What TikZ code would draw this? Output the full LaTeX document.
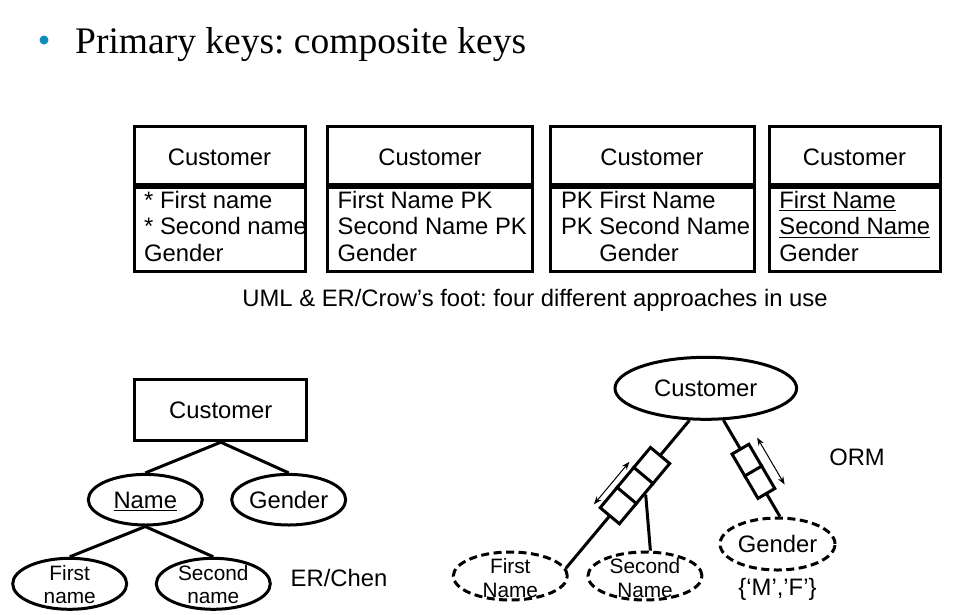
\documentclass[tikz,border=0pt]{standalone}
\usepackage{fontspec}
\setmainfont{Liberation Sans}
\newfontfamily\titlefont{Liberation Serif}
\usetikzlibrary{shapes.geometric,calc,arrows.meta}
\frenchspacing
\newcommand\bigf{\fontsize{23.8}{26.7}\selectfont}
\newcommand\smallf{\fontsize{20.8}{23.4}\selectfont}
\newcommand\titlef{\titlefont\fontsize{37.5}{42}\selectfont}
\newcommand\ulx[1]{\setbox0\hbox{#1}\rlap{\rule[-2.7pt]{\wd0}{1pt}}\box0}
\definecolor{bulletblue}{RGB}{16,140,184}
\tikzset{
 ln/.style={line width=3pt},
 hdr/.style={draw, ln, rectangle, minimum height=58pt, inner sep=0pt, font=\bigf, text height=20.6pt, text depth=0pt},
 bodyb/.style={draw, ln, rectangle, minimum height=84pt, inner sep=0pt},
 attr/.style={font=\bigf, inner sep=0pt, anchor=base west},
 chenent/.style={draw, ln, rectangle, minimum width=171.7pt, minimum height=61.4pt, inner sep=0pt, font=\bigf, text height=16.8pt, text depth=0pt},
 chenatt/.style={draw, ln, ellipse, minimum width=114pt, minimum height=50.6pt, inner sep=0pt, font=\bigf, text height=16.8pt, text depth=0pt},
 chensub/.style={draw, ln, ellipse, minimum width=114pt, minimum height=51pt, inner sep=0pt},
 twoline/.style={font=\smallf, align=center, inner sep=0pt},
 ormobj/.style={draw, ln, ellipse, minimum width=181.6pt, minimum height=62pt, inner sep=0pt, font=\bigf, text height=16.8pt, text depth=0pt},
 ormval/.style={draw, ln, ellipse, dash pattern=on 8pt off 4.5pt, minimum width=114pt, minimum height=48pt, inner sep=0pt},
 cellA/.style={draw, ln, solid, fill=white, rectangle, minimum width=26.4pt, minimum height=25pt, inner sep=0pt, sloped},
 cellB/.style={draw, ln, solid, fill=white, rectangle, minimum width=26pt, minimum height=19.5pt, inner sep=0pt, sloped},
 uc/.style={line width=1pt, {Stealth[length=8pt,width=6pt]}-{Stealth[length=8pt,width=6pt]}},
 lbl/.style={font=\bigf, inner sep=0pt, text height=16.8pt, text depth=0pt},
}
\begin{document}
\begin{tikzpicture}[x=1pt,y=-1pt]
\useasboundingbox (0,0) rectangle (968,614);
\fill[white] (0,0) rectangle (968,614);

% title
\node[circle, fill=bulletblue, minimum size=9pt, inner sep=0pt] (bul) at (44,40) {};
\node[anchor=base west, font=\titlef, inner sep=0pt] (title) at (75,53) {Primary keys: composite keys};

% UML / crow's foot boxes
\node[hdr, minimum width=171pt] (h1) at (219.5,155) {Customer};
\node[bodyb, minimum width=171pt, anchor=north] (b1) at (h1.south) {};
\node[hdr, minimum width=205pt] (h2) at (430,155) {Customer};
\node[bodyb, minimum width=205pt, anchor=north] (b2) at (h2.south) {};
\node[hdr, minimum width=204pt] (h3) at (652,155) {Customer};
\node[bodyb, minimum width=204pt, anchor=north] (b3) at (h3.south) {};
\node[hdr, minimum width=171pt] (h4) at (854.5,155) {Customer};
\node[bodyb, minimum width=171pt, anchor=north] (b4) at (h4.south) {};

\node[attr] (a11) at ($(b1.north west)+(11.5,22.7)$) {* First name};
\node[attr] (a12) at ($(b1.north west)+(11.5,49.4)$) {* Second name};
\node[attr] (a13) at ($(b1.north west)+(11.5,76.1)$) {Gender};
\node[attr] (a21) at ($(b2.north west)+(11.5,22.7)$) {First Name PK};
\node[attr] (a22) at ($(b2.north west)+(11.5,49.4)$) {Second Name PK};
\node[attr] (a23) at ($(b2.north west)+(11.5,76.1)$) {Gender};
\node[attr] (a31) at ($(b3.north west)+(12.3,22.7)$) {PK First Name};
\node[attr] (a32) at ($(b3.north west)+(12.3,49.4)$) {PK Second Name};
\node[attr] (a33) at ($(b3.north west)+(12.3,76.1)$) {\phantom{PK }Gender};
\node[attr] (a41) at ($(b4.north west)+(11.7,22.7)$) {\ulx{First Name}};
\node[attr] (a42) at ($(b4.north west)+(11.7,49.4)$) {\ulx{Second Name}};
\node[attr] (a43) at ($(b4.north west)+(11.7,76.1)$) {Gender};

\node[lbl] (cap) at (535,298) {UML \& ER/Crow’s foot: four different approaches in use};

% ER / Chen
\node[chenent] (cC) at (220.8,410) {Customer};
\node[chenatt] (cName) at (145.3,499.7) {\ulx{Name}};
\node[chenatt] (cGender) at (288.7,499.7) {Gender};
\node[chensub] (cFirst) at (69.7,583.8) {};
\node[twoline] (cFirstT) at (69.7,584.3) {First\\name};
\node[chensub] (cSecond) at (213.3,583.8) {};
\node[twoline] (cSecondT) at (213.3,584.3) {Second\\name};
\draw[ln] (cC.south) -- (cName.north);
\draw[ln] (cC.south) -- (cGender.north);
\draw[ln] (cName.south) -- (cFirst.north);
\draw[ln] (cName.south) -- (cSecond.north);
\node[lbl] (chenlbl) at (339,578) {ER/Chen};

% ORM
\node[ormobj] (oc) at (705.8,388.3) {Customer};
\node[ormval] (fn) at (510.3,576) {};
\node[twoline] (fnT) at (510.3,578) {First\\Name};
\node[ormval] (sn) at (645,576) {};
\node[twoline] (snT) at (645,578) {Second\\Name};
\node[ormval, minimum width=115pt, minimum height=52pt, font=\bigf, text height=16.8pt, text depth=0pt] (gv) at (777.5,544) {Gender};
\node[lbl] (mf) at (777.5,587) {\{‘M’,’F’\}};
\node[lbl] (ormlbl) at (857,456.7) {ORM};

\draw[ln] (oc.243) -- node[cellA, pos=0.3066] (r1) {} node[cellA, pos=0.4417] (r2) {} node[cellA, pos=0.5768] (r3) {} (fn.8);
\draw[ln] (r2.south) -- (sn.78);
\draw[uc] ($(r3.north west)!-5.5pt!(r3.south west)$) -- ($(r2.north east)!-5.5pt!(r2.south east)$);

\draw[ln] (oc.299) -- node[cellB, pos=0.417] (g1) {} node[cellB, pos=0.644] (g2) {} (gv.85);
\draw[uc] ($(g1.north west)!-9pt!(g1.south west)$) -- ($(g2.north east)!-9pt!(g2.south east)$);
\end{tikzpicture}
\end{document}
